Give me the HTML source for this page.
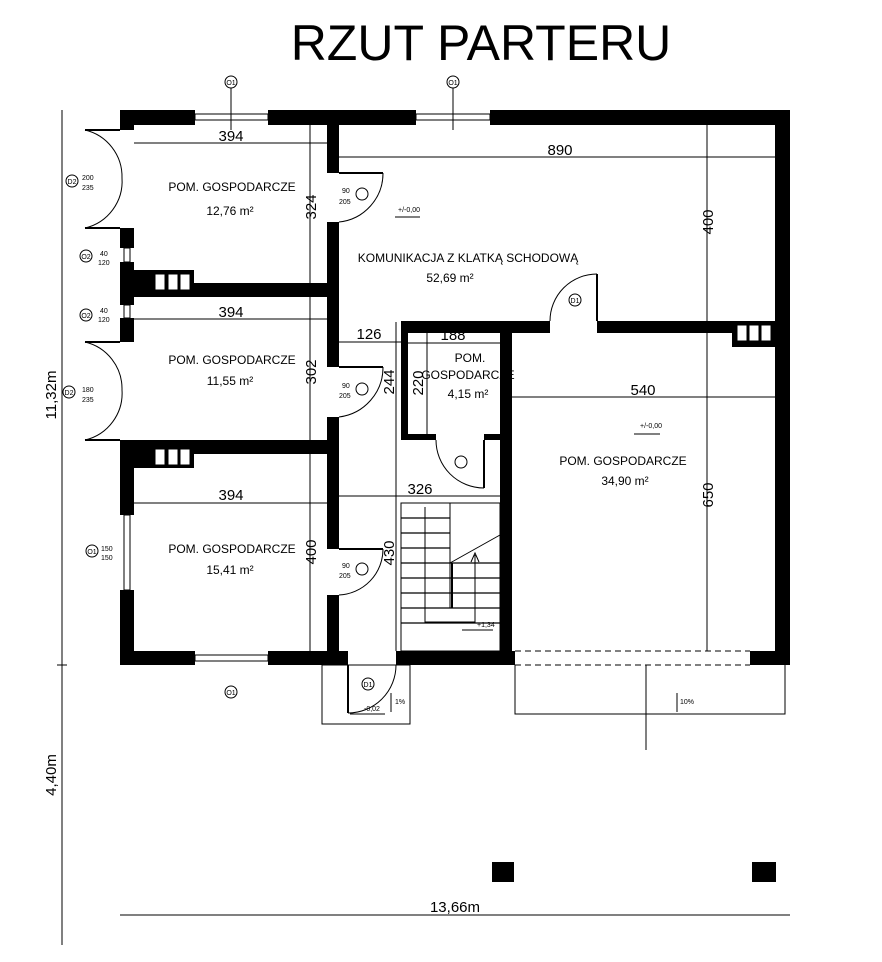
<!DOCTYPE html>
<html><head><meta charset="utf-8"><style>
html,body{margin:0;padding:0;background:#fff;}
svg{display:block;font-family:"Liberation Sans",sans-serif;}
</style></head><body>
<svg width="882" height="962" viewBox="0 0 882 962" xmlns="http://www.w3.org/2000/svg">
<text x="481" y="60" font-size="50" text-anchor="middle" fill="#000">RZUT PARTERU</text>

<g fill="#000">
<rect x="120" y="110" width="75" height="15"/>
<rect x="268" y="110" width="148" height="15"/>
<rect x="490" y="110" width="300" height="15"/>
<rect x="775" y="110" width="15" height="555"/>
<rect x="120" y="110" width="14" height="20"/>
<rect x="120" y="228" width="14" height="20"/>
<rect x="120" y="262" width="14" height="43"/>
<rect x="120" y="318" width="14" height="24"/>
<rect x="120" y="440" width="14" height="75"/>
<rect x="120" y="590" width="14" height="75"/>
<rect x="120" y="651" width="75" height="14"/>
<rect x="268" y="651" width="80" height="14"/>
<rect x="396" y="651" width="119" height="14"/>
<rect x="750" y="651" width="40" height="14"/>
<rect x="327" y="125" width="12" height="48"/>
<rect x="327" y="222" width="12" height="145"/>
<rect x="327" y="417" width="12" height="132"/>
<rect x="327" y="595" width="12" height="56"/>
<rect x="134" y="283" width="205" height="14"/>
<rect x="134" y="270" width="60" height="14"/>
<rect x="134" y="440" width="205" height="14"/>
<rect x="134" y="454" width="60" height="14"/>
<rect x="401" y="321" width="7" height="118"/>
<rect x="401" y="321" width="149" height="12"/>
<rect x="597" y="321" width="178" height="12"/>
<rect x="500" y="333" width="12" height="318"/>
<rect x="401" y="434" width="35" height="6"/>
<rect x="484" y="434" width="28" height="6"/>
<rect x="732" y="333" width="43" height="14"/>
</g>
<g fill="#fff" stroke="#fff">
<rect x="156" y="275" width="8" height="14"/><rect x="169" y="275" width="8" height="14"/><rect x="181" y="275" width="8" height="14"/>
<rect x="156" y="450" width="8" height="14"/><rect x="169" y="450" width="8" height="14"/><rect x="181" y="450" width="8" height="14"/>
<rect x="738" y="326" width="8" height="14"/><rect x="750" y="326" width="8" height="14"/><rect x="762" y="326" width="8" height="14"/>
</g>
<g stroke="#000" fill="none" stroke-width="1">
<rect x="195" y="114" width="73" height="6"/><rect x="416" y="114" width="74" height="6"/>
<rect x="195" y="655" width="73" height="6"/>
<rect x="124" y="515" width="6" height="75"/>
<rect x="124" y="248" width="6" height="14"/><rect x="124" y="305" width="6" height="13"/>
<line x1="515" y1="651" x2="750" y2="651" stroke-dasharray="6,4"/>
<line x1="515" y1="665" x2="750" y2="665" stroke-dasharray="6,4"/>
<rect x="322" y="665" width="88" height="59"/>
<polyline points="515,665 515,714 785,714 785,665"/>
<line x1="646" y1="665" x2="646" y2="750"/>
<path d="M85,130 A48,48 0 0 1 122,178 A48,48 0 0 1 85,228"/>
<path d="M85,342 A48,48 0 0 1 122,390 A48,48 0 0 1 85,440"/>
<line x1="85" y1="130" x2="120" y2="130" stroke-width="2"/><line x1="85" y1="228" x2="120" y2="228" stroke-width="2"/>
<line x1="85" y1="342" x2="120" y2="342" stroke-width="2"/><line x1="85" y1="440" x2="120" y2="440" stroke-width="2"/>
<path d="M383,173 A49,49 0 0 1 339,222"/><line x1="339" y1="173" x2="383" y2="173" stroke-width="2"/>
<path d="M383,367 A50,50 0 0 1 339,417"/><line x1="339" y1="367" x2="383" y2="367" stroke-width="2"/>
<path d="M383,549 A46,46 0 0 1 339,595"/><line x1="339" y1="549" x2="383" y2="549" stroke-width="2"/>
<path d="M550,321 A47,47 0 0 1 597,274"/><line x1="597" y1="274" x2="597" y2="321" stroke-width="2"/>
<path d="M436,440 A48,48 0 0 0 484,488"/><line x1="484" y1="440" x2="484" y2="488" stroke-width="2"/>
<path d="M396,665 A48,48 0 0 1 348,713"/><line x1="348" y1="665" x2="348" y2="713" stroke-width="2"/>
<rect x="401" y="503" width="99" height="148"/>
<g stroke-width="1.2">
<line x1="401" y1="518" x2="450" y2="518"/><line x1="401" y1="533" x2="450" y2="533"/><line x1="401" y1="548" x2="450" y2="548"/>
<line x1="401" y1="563" x2="500" y2="563"/><line x1="401" y1="578" x2="500" y2="578"/><line x1="401" y1="593" x2="500" y2="593"/>
<line x1="401" y1="608" x2="500" y2="608"/><line x1="401" y1="623" x2="500" y2="623"/>
</g>
<line x1="450" y1="503" x2="450" y2="608"/><line x1="452" y1="563" x2="452" y2="608" stroke-width="2"/>
<line x1="450" y1="563" x2="500" y2="535"/>
<polyline points="425,507 425,622 475,622 475,555"/>
<polyline points="471,562 475,553 479,562"/>
<line x1="134" y1="143" x2="327" y2="143"/><line x1="339" y1="157" x2="775" y2="157"/>
<line x1="134" y1="319" x2="327" y2="319"/><line x1="339" y1="342" x2="401" y2="342"/>
<line x1="408" y1="343" x2="500" y2="343"/><line x1="512" y1="397" x2="775" y2="397"/>
<line x1="339" y1="496" x2="500" y2="496"/><line x1="134" y1="503" x2="327" y2="503"/>
<line x1="310" y1="125" x2="310" y2="651"/><line x1="707" y1="125" x2="707" y2="651"/>
<line x1="396" y1="322" x2="396" y2="651"/><line x1="427" y1="325" x2="427" y2="434"/>
<line x1="62" y1="110" x2="62" y2="945"/><line x1="57" y1="665" x2="67" y2="665"/>
<line x1="120" y1="915" x2="790" y2="915"/>
<line x1="395" y1="217" x2="420" y2="217"/><line x1="634" y1="434" x2="660" y2="434"/>
<line x1="462" y1="630" x2="493" y2="630"/><line x1="350" y1="714" x2="385" y2="714"/>
<line x1="391" y1="693" x2="391" y2="712"/><line x1="677" y1="693" x2="677" y2="712"/>
</g>
<g fill="#000">
<rect x="492" y="862" width="22" height="20"/><rect x="752" y="862" width="24" height="20"/>
</g>
<g font-size="12" fill="#000" text-anchor="middle">
<text x="232" y="191">POM. GOSPODARCZE</text><text x="230" y="215">12,76 m²</text>
<text x="232" y="364">POM. GOSPODARCZE</text><text x="230" y="385">11,55 m²</text>
<text x="232" y="553">POM. GOSPODARCZE</text><text x="230" y="574">15,41 m²</text>
<text x="468" y="262">KOMUNIKACJA Z KLATKĄ SCHODOWĄ</text><text x="450" y="282">52,69 m²</text>
<text x="470" y="362">POM.</text><text x="468" y="379">GOSPODARCZE</text><text x="468" y="398">4,15 m²</text>
<text x="623" y="465">POM. GOSPODARCZE</text><text x="625" y="485">34,90 m²</text>
</g>
<g font-size="15" fill="#000" text-anchor="middle">
<text x="231" y="141">394</text><text x="560" y="155">890</text>
<text x="231" y="317">394</text><text x="231" y="500">394</text>
<text x="369" y="339">126</text><text x="453" y="340">188</text>
<text x="643" y="395">540</text><text x="420" y="494">326</text>
<text transform="translate(316,207) rotate(-90)">324</text>
<text transform="translate(316,372) rotate(-90)">302</text>
<text transform="translate(316,552) rotate(-90)">400</text>
<text transform="translate(713,222) rotate(-90)">400</text>
<text transform="translate(713,495) rotate(-90)">650</text>
<text transform="translate(394,382) rotate(-90)">244</text>
<text transform="translate(423,383) rotate(-90)">220</text>
<text transform="translate(394,553) rotate(-90)">430</text>
<text transform="translate(56,395) rotate(-90)">11,32m</text>
<text transform="translate(56,775) rotate(-90)">4,40m</text>
<text x="455" y="912">13,66m</text>
</g>
<g font-size="7" fill="#000">
<text x="398" y="212">+/-0,00</text><text x="640" y="428">+/-0,00</text>
<text x="477" y="627">+1,34</text><text x="364" y="711">-0,02</text>
<text x="395" y="704">1%</text><text x="680" y="704">10%</text>
<text x="342" y="193">90</text><text x="339" y="204">205</text>
<text x="342" y="388">90</text><text x="339" y="398">205</text>
<text x="342" y="568">90</text><text x="339" y="578">205</text>
<text x="82" y="180">200</text><text x="82" y="190">235</text>
<text x="82" y="392">180</text><text x="82" y="402">235</text>
<text x="100" y="256">40</text><text x="98" y="265">120</text>
<text x="100" y="313">40</text><text x="98" y="322">120</text>
<text x="101" y="551">150</text><text x="101" y="560">150</text>
</g>
<g fill="#fff" stroke="#000" stroke-width="1">
<circle cx="72" cy="181" r="6"/><circle cx="69" cy="392" r="6"/>
<circle cx="86" cy="256" r="6"/><circle cx="86" cy="315" r="6"/>
<circle cx="92" cy="551" r="6"/><circle cx="231" cy="82" r="6"/><circle cx="453" cy="82" r="6"/>
<circle cx="231" cy="692" r="6"/><circle cx="368" cy="684" r="6"/>
<circle cx="362" cy="194" r="6"/><circle cx="362" cy="389" r="6"/><circle cx="362" cy="569" r="6"/>
<circle cx="575" cy="300" r="6"/><circle cx="461" cy="462" r="6"/>
</g>
<g font-size="7" fill="#000" text-anchor="middle">
<text x="72" y="184">D2</text><text x="69" y="395">D2</text><text x="86" y="259">O2</text><text x="86" y="318">O2</text>
<text x="92" y="554">O1</text><text x="231" y="85">O1</text><text x="453" y="85">O1</text><text x="231" y="695">O1</text>
<text x="368" y="687">D1</text><text x="575" y="303">D1</text>
</g>
<g stroke="#000" stroke-width="1"><line x1="231" y1="88" x2="231" y2="130"/><line x1="453" y1="88" x2="453" y2="130"/></g>
</svg>
</body></html>
